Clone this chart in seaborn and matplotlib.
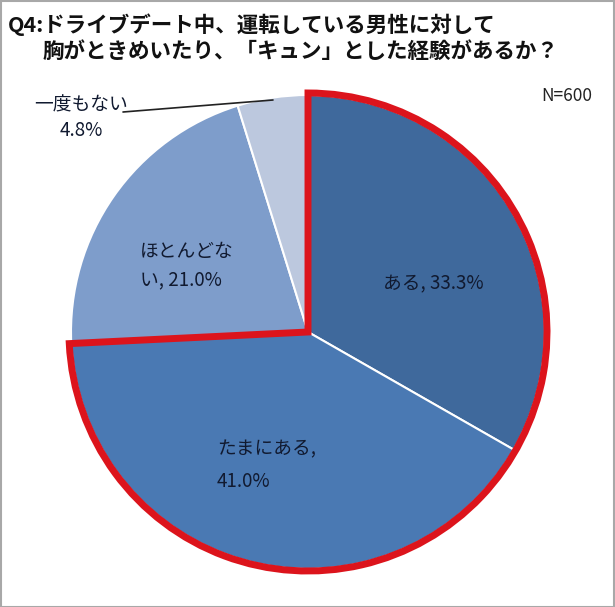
import matplotlib
matplotlib.use("Agg")
import matplotlib.pyplot as plt
import seaborn as sns
from matplotlib.patches import Wedge, Rectangle

# Data
categories = ["ある", "たまにある", "ほとんどない", "一度もない"]
shares = [33.3, 41.0, 21.0, 4.8]
label_texts = ["ある, 33.3%", "たまにある,\n41.0%", "ほとんどな\nい, 21.0%", "一度もない\n4.8%"]
slice_colors = ["#3f699c", "#4a79b3", "#7e9dcb", "#bcc8de"]

TITLE = "Q4:ドライブデート中、運転している男性に対して"
TITLE2 = "胸がときめいたり、「キュン」とした経験があるか？"
N_NOTE = "N=600"

W, H = 615, 607

sns.set_theme(style="white")
plt.rcParams['font.family'] = ['Noto Sans CJK JP', 'DejaVu Sans']


def py(y):
    # pixel row (from top) -> data y
    return H - y


fig = plt.figure(figsize=(W / 100, H / 100), dpi=100)
ax = fig.add_axes([0, 0, 1, 1])

cx, cy, r = 308, py(332), 237
wedges, _ = ax.pie(shares, colors=slice_colors, startangle=90, counterclock=False,
                   center=(cx, cy), radius=r,
                   wedgeprops=dict(edgecolor="white", linewidth=1.5))

# red outline around "ある" + "たまにある"
ax.add_patch(Wedge((cx, cy), r + 2, wedges[1].theta1, wedges[0].theta2,
                   fill=False, edgecolor="#dc141c", linewidth=5, joinstyle="miter"))

ax.set_xlim(0, W)
ax.set_ylim(0, H)
ax.axis("off")

txt = dict(fontsize=13.5, color="#111a30")
ax.text(383, py(284), label_texts[0], ha="left", va="center", **txt)
ax.text(217, py(465), label_texts[1], ha="left", va="center", linespacing=1.75, **txt)
ax.text(140, py(266), label_texts[2], ha="left", va="center", linespacing=1.45, **txt)
ax.text(34, py(105), categories[3], ha="left", va="center", **txt)
ax.text(60, py(131), f"{shares[3]}%", ha="left", va="center", **txt)
ax.plot([123, 273], [py(112), py(100)], color="#222222", linewidth=1.2)

ax.text(592, py(96), N_NOTE, ha="right", va="center", fontsize=12.5, color="#222222")

ax.text(8, py(25), TITLE, ha="left", va="center", fontsize=15.5, fontweight="bold", color="#111111")
ax.text(43, py(51), TITLE2, ha="left", va="center", fontsize=15.5, fontweight="bold", color="#111111")

ax.add_patch(Rectangle((0.5, 0.5), W - 1.5, H - 1.5, fill=False, edgecolor="#a8a8a8", linewidth=1.5))

fig.savefig("out.png", dpi=100)
plt.close(fig)
